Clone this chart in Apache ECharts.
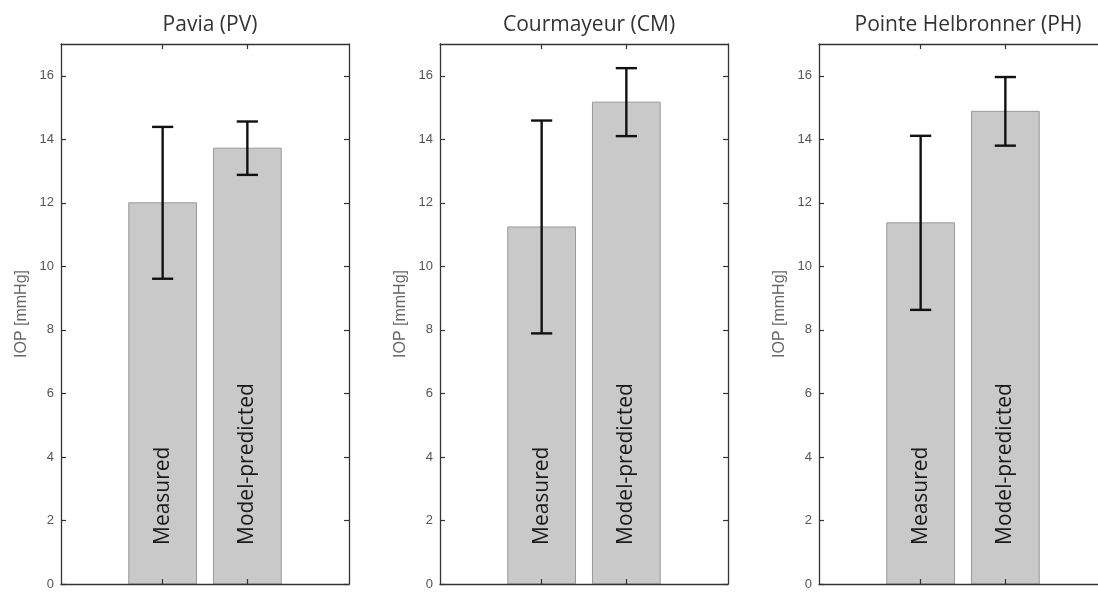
<!DOCTYPE html>
<html>
<head>
<meta charset="utf-8">
<script src="https://cdn.jsdelivr.net/npm/echarts@6/dist/echarts.min.js"></script>
<style>
html,body{margin:0;padding:0;background:#fff;}
#chart{width:1098px;height:592px;}
</style>
</head>
<body>
<div id="chart"></div>
<script>
// ---- data ----
var sites = ['Pavia (PV)', 'Courmayeur (CM)', 'Pointe Helbronner (PH)'];
var categories = ['Measured', 'Model-predicted'];
var categoryPositions = [1, 2];
var measuredMean = [12.0, 11.24, 11.37];
var measuredErr = [2.39, 3.35, 2.74];
var modelMean = [13.72, 15.17, 14.88];
var modelErr = [0.84, 1.07, 1.08];
var yTicks = [0, 2, 4, 6, 8, 10, 12, 14, 16];
var yAxisName = 'IOP [mmHg]';

// ---- layout ----
var gridLefts = [61, 440, 819];
var gridTop = 44, gridW = 288, gridH = 540;
var axisColor = '#333';

var grids = [], xAxes = [], yAxes = [], series = [], titles = [];

gridLefts.forEach(function (gl, i) {
  grids.push({left: gl, top: gridTop, width: gridW, height: gridH,
    outerBoundsMode: 'none', containLabel: false,
    show: false});
  titles.push({text: sites[i], left: gl + gridW / 2, top: 10, textAlign: 'center',
    textStyle: {fontFamily: 'Open Sans', fontSize: 21, fontWeight: 'normal', color: '#333'}});
  var xBase = {gridIndex: i, type: 'value', min: -0.2, max: 3.2, z: 10,
    splitLine: {show: false}, axisLabel: {show: false},
    axisLine: {show: true, onZero: false, lineStyle: {color: axisColor, width: 1.3}},
    axisTick: {show: true, inside: true, length: 5, customValues: categoryPositions,
      lineStyle: {color: axisColor, width: 1.2}}};
  xAxes.push(Object.assign({}, xBase, {position: 'bottom'}));
  xAxes.push(Object.assign({}, xBase, {position: 'top'}));
  var yBase = {gridIndex: i, type: 'value', min: 0, max: 17,
    splitLine: {show: false},
    axisLine: {show: true, onZero: false, lineStyle: {color: axisColor, width: 1.3}},
    axisTick: {show: true, inside: true, length: 5, customValues: yTicks,
      lineStyle: {color: axisColor, width: 1.2}}};
  yAxes.push(Object.assign({}, yBase, {position: 'left',
    name: yAxisName, nameLocation: 'middle', nameGap: 31,
    nameTextStyle: {fontFamily: 'Liberation Sans', fontSize: 16, color: '#666'},
    axisLabel: {show: true, customValues: yTicks, margin: 7,
      fontFamily: 'Liberation Sans', fontSize: 13, color: '#555'}}));
  yAxes.push(Object.assign({}, yBase, {position: 'right', axisLabel: {show: false}}));

  var data = [
    [categoryPositions[0], measuredMean[i], measuredErr[i], 0],
    [categoryPositions[1], modelMean[i], modelErr[i], 1]
  ];
  series.push({
    type: 'custom', xAxisIndex: 2 * i, yAxisIndex: 2 * i,
    data: data, clip: false,
    renderItem: function (params, api) {
      var x = api.value(0), m = api.value(1), e = api.value(2), ci = api.value(3);
      var base = api.coord([x, 0]);
      var top = api.coord([x, m]);
      var hi = api.coord([x, m + e]);
      var lo = api.coord([x, m - e]);
      var bw = api.size([0.8, 0])[0];
      var cw = api.size([0.25, 0])[0];
      return {
        type: 'group',
        children: [
          {type: 'rect', shape: {x: base[0] - bw / 2, y: top[1], width: bw, height: base[1] - top[1]},
            style: {fill: '#c9c9c9', stroke: '#9a9a9a', lineWidth: 1}},
          {type: 'line', shape: {x1: hi[0], y1: hi[1], x2: lo[0], y2: lo[1]},
            style: {stroke: '#111', lineWidth: 2.4}},
          {type: 'line', shape: {x1: hi[0] - cw / 2, y1: hi[1], x2: hi[0] + cw / 2, y2: hi[1]},
            style: {stroke: '#111', lineWidth: 2.4}},
          {type: 'line', shape: {x1: lo[0] - cw / 2, y1: lo[1], x2: lo[0] + cw / 2, y2: lo[1]},
            style: {stroke: '#111', lineWidth: 2.4}},
          {type: 'text', x: base[0], y: base[1] - 39, rotation: Math.PI / 2,
            style: {text: categories[ci], textAlign: 'left', textVerticalAlign: 'middle',
              fontFamily: 'Open Sans', fontSize: 21, fill: '#1a1a1a'}}
        ]
      };
    }
  });
});

var chart = echarts.init(document.getElementById('chart'));
chart.setOption({
  animation: false,
  backgroundColor: '#fff',
  title: titles,
  grid: grids,
  xAxis: xAxes,
  yAxis: yAxes,
  series: series
});
</script>
</body>
</html>
